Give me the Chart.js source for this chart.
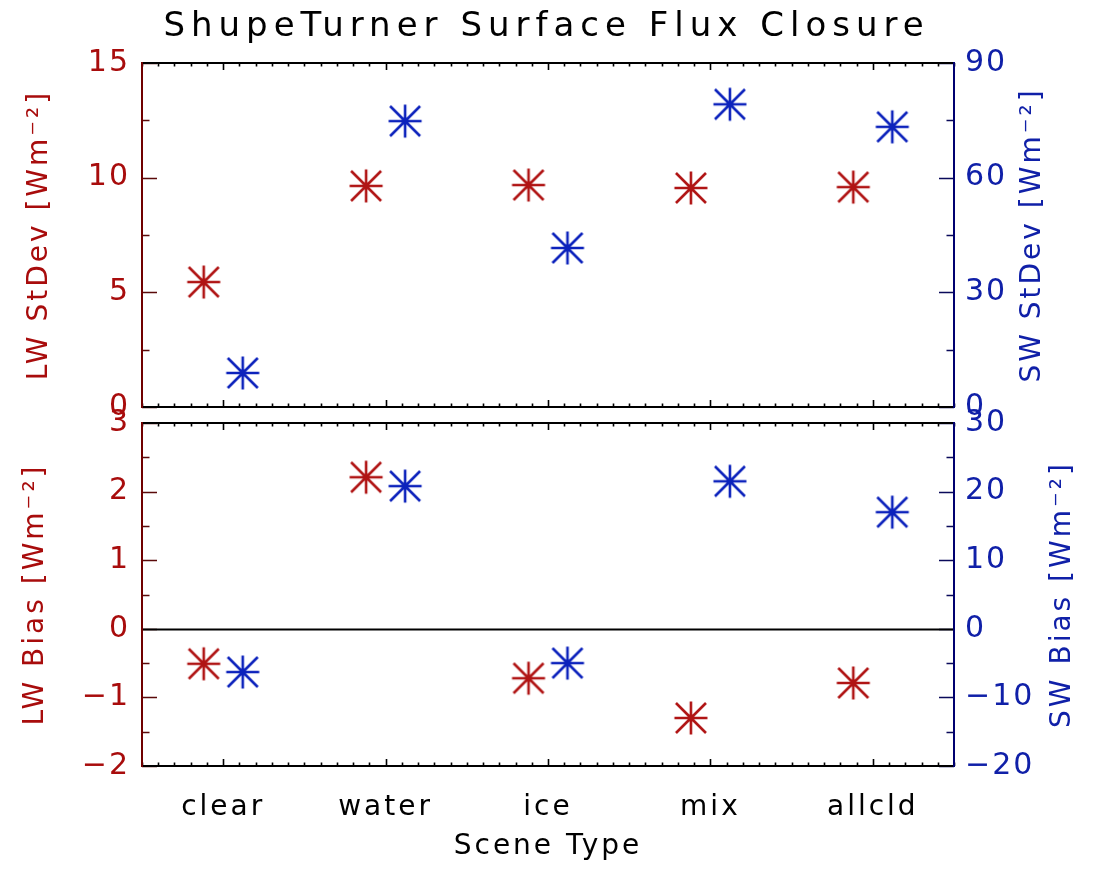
<!DOCTYPE html>
<html>
<head>
<meta charset="utf-8">
<script src="https://cdn.jsdelivr.net/npm/chart.js@4"></script>
<style>
  body { margin: 0; background: #fff; }
  #wrap { position: relative; width: 1093px; height: 871px; }
  canvas { position: absolute; left: 0; top: 0; }
</style>
</head>
<body>
<div id="wrap">
  <canvas id="top" width="1093" height="871"></canvas>
  <canvas id="bottom" width="1093" height="871"></canvas>
</div>
<script>
"use strict";
// values
const scenes = ["clear", "water", "ice", "mix", "allcld"];
const scenePos = [0, 1, 2, 3, 4];
const lwX = [-0.12, 0.88, 1.88, 2.88, 3.88];
const swX = [0.12, 1.12, 2.12, 3.12, 4.12];
const lwStdev = [5.45, 9.64, 9.68, 9.55, 9.59];
const swStdev = [8.9, 74.8, 41.6, 79.2, 73.3];
const lwBias = [-0.51, 2.21, -0.72, -1.3, -0.79];
const swBias = [-6.3, 20.8, -5.0, 21.5, 17.0];
const lwStdevTicks = [0, 5, 10, 15];
const swStdevTicks = [0, 30, 60, 90];
const lwBiasTicks = [-2, -1, 0, 1, 2, 3];
const swBiasTicks = [-20, -10, 0, 10, 20, 30];

const RED = "#b01414";
const BLUE = "#0c22bc";
const RED_TEXT = "#a80c0c";
const BLUE_TEXT = "#1020a8";

Chart.defaults.font.family = "'DejaVu Sans', sans-serif";
Chart.defaults.color = "#000";

// the IDL font is spaced out, so widen the canvas text a bit
const spacingBySize = { "34": "6px", "30": "2px", "28": "3px" };
function spaceText(canvas) {
  const ctx = canvas.getContext("2d");
  const fill = ctx.fillText;
  ctx.fillText = function (text, x, y, maxWidth) {
    const m = /(\d+(?:\.\d+)?)px/.exec(this.font);
    this.letterSpacing = (m && spacingBySize[m[1]]) || "0px";
    if (maxWidth === undefined) return fill.call(this, text, x, y);
    return fill.call(this, text, x, y, maxWidth);
  };
}

// IDL psym=2 asterisk
function asterisk(color) {
  const c = document.createElement("canvas");
  c.width = 40;
  c.height = 40;
  const g = c.getContext("2d");
  g.strokeStyle = color;
  g.lineWidth = 2.6;
  g.beginPath();
  g.moveTo(3.5, 20); g.lineTo(36.5, 20);
  g.moveTo(20, 3.5); g.lineTo(20, 36.5);
  g.moveTo(5, 5); g.lineTo(35, 35);
  g.moveTo(35, 5); g.lineTo(5, 35);
  g.stroke();
  return c;
}
const redStar = asterisk(RED);
const blueStar = asterisk(BLUE);

const fmt = (v) => (v < 0 ? "\u2212" + Math.abs(v) : String(v));

function leftAxis(min, max, ticks, title, pad) {
  return {
    position: "left",
    min: min,
    max: max,
    afterBuildTicks: (s) => { s.ticks = ticks.map((value) => ({ value })); },
    afterFit: (s) => { s.width = 142; s.paddingTop = 0; s.paddingBottom = 0; },
    grid: { display: false, drawTicks: false },
    border: { display: false },
    ticks: { color: RED_TEXT, font: { size: 30 }, padding: 12, callback: fmt },
    title: { display: true, text: title, color: RED_TEXT, font: { size: 28 }, padding: { top: pad, bottom: 0 } },
  };
}

function rightAxis(min, max, ticks) {
  return {
    position: "right",
    min: min,
    max: max,
    afterBuildTicks: (s) => { s.ticks = ticks.map((value) => ({ value })); },
    afterFit: (s) => { s.width = 139; s.paddingTop = 0; s.paddingBottom = 0; },
    grid: { display: false, drawTicks: false },
    border: { display: false },
    ticks: { color: BLUE_TEXT, font: { size: 30 }, padding: 11, callback: fmt },
  };
}

// box, inward ticks and zero line
function yTicks(ctx, scale, edge, dir, color) {
  const vals = scale.ticks.map((t) => t.value);
  const step = vals[1] - vals[0];
  ctx.strokeStyle = color;
  ctx.lineWidth = 1.6;
  ctx.beginPath();
  for (let v = scale.min; v <= scale.max + 1e-9; v += step / 2) {
    const py = Math.round(scale.getPixelForValue(v)) + 0.5;
    const major = Math.abs(v / step - Math.round(v / step)) < 1e-6;
    ctx.moveTo(edge, py);
    ctx.lineTo(edge + dir * (major ? 15 : 7.5), py);
  }
  ctx.stroke();
}

const framePlugin = {
  id: "frame",
  beforeDatasetsDraw(chart, args, opts) {
    const { ctx, chartArea: a, scales } = chart;
    const x = scales.x;
    ctx.save();
    ctx.strokeStyle = "#000";
    ctx.lineWidth = 1.6;
    ctx.beginPath();
    for (let i = 0; i <= 50; i++) {
      const v = x.min + i * 0.1;
      const px = Math.round(x.getPixelForValue(v)) + 0.5;
      const len = Math.abs(v - Math.round(v)) < 1e-6 ? 7 : 3.5;
      ctx.moveTo(px, a.bottom);
      ctx.lineTo(px, a.bottom - len);
      ctx.moveTo(px, a.top);
      ctx.lineTo(px, a.top + len);
    }
    ctx.stroke();
    yTicks(ctx, scales.yl, a.left, 1, "#5a0a0a");
    yTicks(ctx, scales.yr, a.right, -1, "#0a0a5a");

    ctx.lineWidth = 2;
    ctx.strokeStyle = "#000";
    ctx.beginPath();
    ctx.moveTo(a.left, a.top); ctx.lineTo(a.right, a.top);
    ctx.moveTo(a.left, a.bottom); ctx.lineTo(a.right, a.bottom);
    if (opts.zero) {
      const zy = Math.round(scales.yl.getPixelForValue(0)) + 0.5;
      ctx.moveTo(a.left, zy); ctx.lineTo(a.right, zy);
    }
    ctx.stroke();
    ctx.strokeStyle = "#700000";
    ctx.beginPath();
    ctx.moveTo(a.left, a.top - 1); ctx.lineTo(a.left, a.bottom + 1);
    ctx.stroke();
    ctx.strokeStyle = "#000070";
    ctx.beginPath();
    ctx.moveTo(a.right, a.top - 1); ctx.lineTo(a.right, a.bottom + 1);
    ctx.stroke();
    ctx.restore();
  },
};

// right-hand titles read bottom to top, like the left ones
const sideTitlePlugin = {
  id: "sideTitle",
  afterDraw(chart, args, opts) {
    const s = chart.scales.yr;
    const ctx = chart.ctx;
    ctx.save();
    ctx.translate(s.left + opts.offset, (s.top + s.bottom) / 2);
    ctx.rotate(-Math.PI / 2);
    ctx.font = "28px 'DejaVu Sans', sans-serif";
    ctx.fillStyle = opts.color;
    ctx.textAlign = "center";
    ctx.textBaseline = "middle";
    ctx.fillText(opts.text, 0, 0);
    ctx.restore();
  },
};

function points(xs, ys) {
  return xs.map((x, i) => ({ x: x, y: ys[i] }));
}

const topCanvas = document.getElementById("top");
const bottomCanvas = document.getElementById("bottom");
spaceText(topCanvas);
spaceText(bottomCanvas);

new Chart(topCanvas, {
  type: "scatter",
  data: {
    datasets: [
      { label: "LW StDev", data: points(lwX, lwStdev), yAxisID: "yl", pointStyle: redStar, pointRadius: 16 },
      { label: "SW StDev", data: points(swX, swStdev), yAxisID: "yr", pointStyle: blueStar, pointRadius: 16 },
    ],
  },
  options: {
    responsive: false,
    animation: false,
    events: [],
    layout: { padding: { top: 0, left: 0, right: 0, bottom: 464 } },
    plugins: {
      legend: { display: false },
      tooltip: { enabled: false },
      title: {
        display: true,
        text: "ShupeTurner Surface Flux Closure",
        color: "#000",
        font: { size: 34, weight: "normal" },
        padding: { top: 7, bottom: 15.2 },
      },
      frame: { zero: false },
      sideTitle: { text: "SW StDev [Wm\u207B\u00B2]", offset: 79, color: BLUE_TEXT },
    },
    scales: {
      x: { type: "linear", min: -0.5, max: 4.5, display: false },
      yl: leftAxis(0, 15, lwStdevTicks, "LW StDev [Wm\u207B\u00B2]", 23),
      yr: rightAxis(0, 90, swStdevTicks),
    },
  },
  plugins: [framePlugin, sideTitlePlugin],
});

new Chart(bottomCanvas, {
  type: "scatter",
  data: {
    datasets: [
      { label: "LW Bias", data: points(lwX, lwBias), yAxisID: "yl", pointStyle: redStar, pointRadius: 16 },
      { label: "SW Bias", data: points(swX, swBias), yAxisID: "yr", pointStyle: blueStar, pointRadius: 16 },
    ],
  },
  options: {
    responsive: false,
    animation: false,
    events: [],
    layout: { padding: { top: 423, left: 0, right: 0, bottom: 0 } },
    plugins: {
      legend: { display: false },
      tooltip: { enabled: false },
      frame: { zero: true },
      sideTitle: { text: "SW Bias [Wm\u207B\u00B2]", offset: 109, color: BLUE_TEXT },
    },
    scales: {
      x: {
        type: "linear",
        position: "bottom",
        min: -0.5,
        max: 4.5,
        afterBuildTicks: (s) => { s.ticks = scenePos.map((value) => ({ value })); },
        afterFit: (s) => { s.height = 105; },
        grid: { display: false, drawTicks: false },
        border: { display: false },
        ticks: {
          color: "#000",
          font: { size: 28 },
          padding: 25,
          maxRotation: 0,
          autoSkip: false,
          callback: (v) => scenes[scenePos.indexOf(v)] || "",
        },
        title: { display: true, text: "Scene Type", color: "#000", font: { size: 28 }, padding: { top: 0, bottom: 7 } },
      },
      yl: leftAxis(-2, 3, lwBiasTicks, "LW Bias [Wm\u207B\u00B2]", 19),
      yr: rightAxis(-20, 30, swBiasTicks),
    },
  },
  plugins: [framePlugin, sideTitlePlugin],
});
</script>
</body>
</html>
